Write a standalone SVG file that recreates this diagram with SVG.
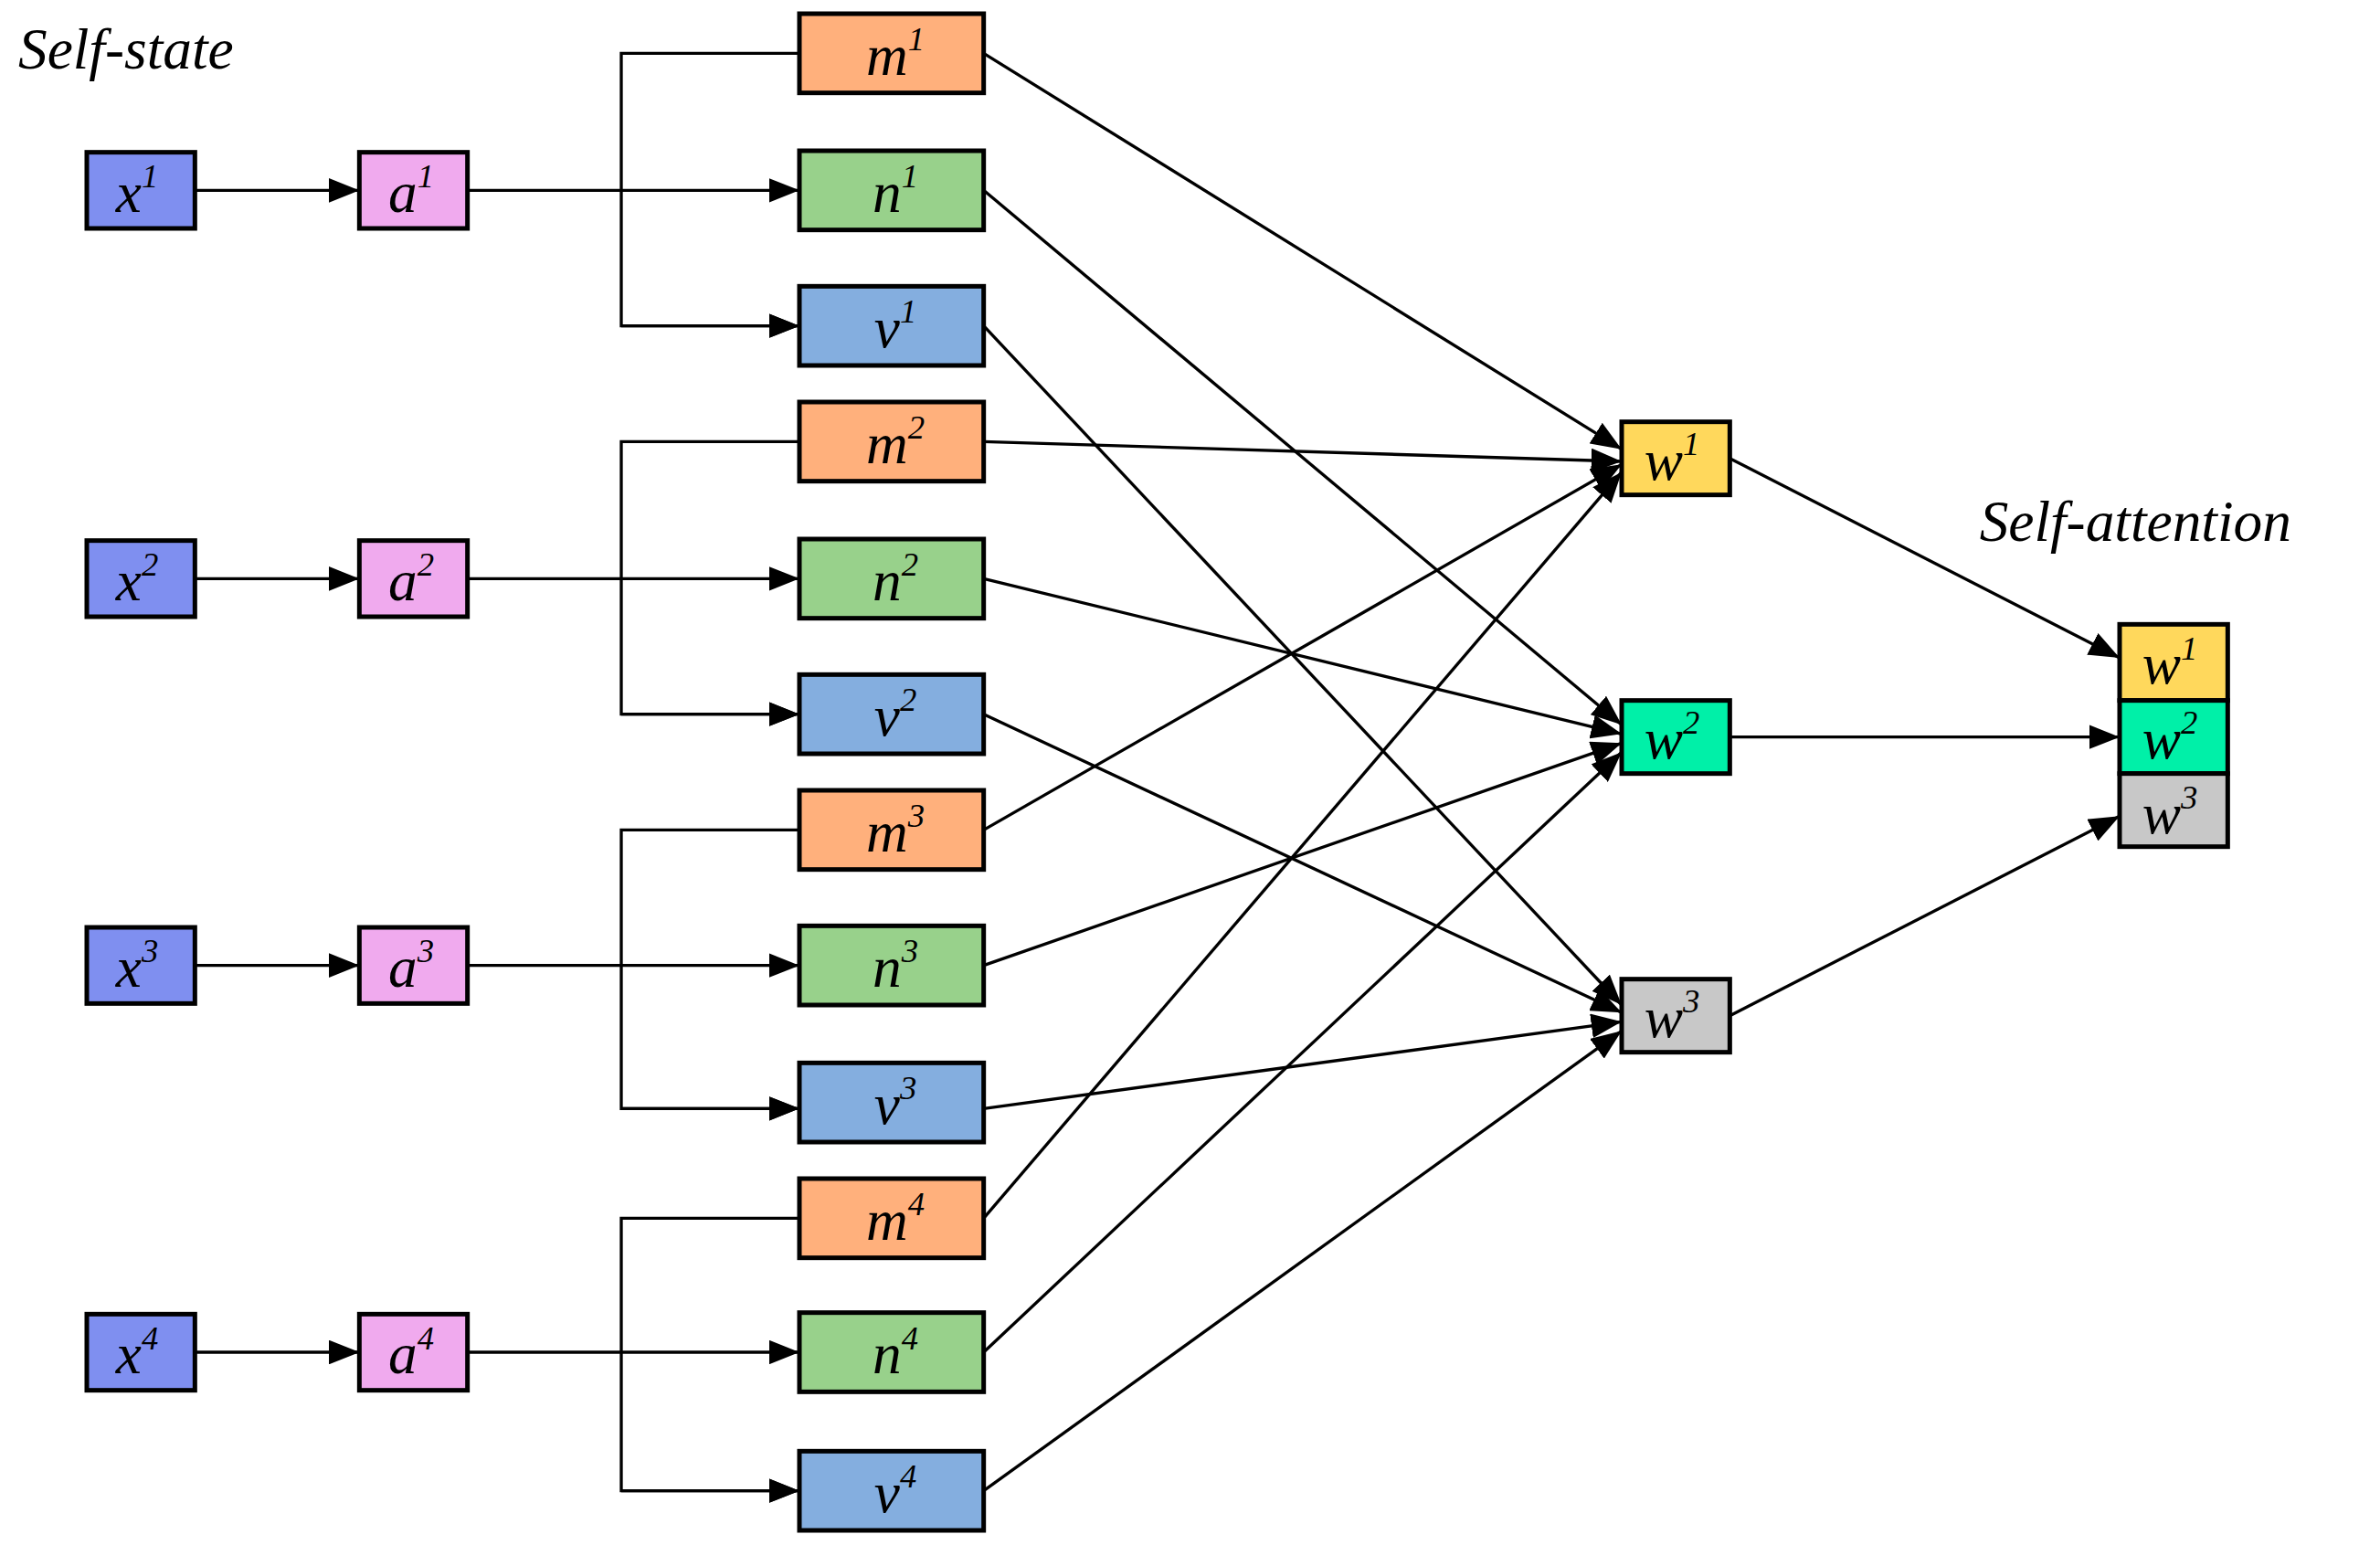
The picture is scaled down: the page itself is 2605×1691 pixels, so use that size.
<svg xmlns="http://www.w3.org/2000/svg" width="2605" height="1691" viewBox="0 0 2605 1691">
<style>
.b{stroke:#000;stroke-width:3}
.t{font-family:"Liberation Serif",serif;font-style:italic;font-size:38px;text-anchor:middle}
.s{font-size:22px}
.c line,.c path{stroke:#000;stroke-width:2;fill:none;marker-end:url(#ar)}
.h{font-family:"Liberation Serif",serif;font-style:italic;font-size:38px}
</style>
<defs><marker id="ar" markerUnits="userSpaceOnUse" markerWidth="20" markerHeight="16" refX="20" refY="8" orient="auto"><path d="M0,0L20,8L0,16Z" fill="#000"/></marker></defs>
<rect width="2605" height="1691" fill="#fff"/>
<g transform="scale(1.66667)">
<text class="h" x="12" y="45">Self-state</text>
<text class="h" x="1300" y="355">Self-attention</text>
<g class="c">
<line x1="128" y1="125" x2="236" y2="125"/><line x1="128" y1="380" x2="236" y2="380"/><line x1="128" y1="634" x2="236" y2="634"/><line x1="128" y1="888" x2="236" y2="888"/>
<line x1="307" y1="125" x2="525" y2="125"/><line x1="307" y1="380" x2="525" y2="380"/><line x1="307" y1="634" x2="525" y2="634"/><line x1="307" y1="888" x2="525" y2="888"/>
<path d="M525,35H408V214H525"/><path d="M408,214H525"/>
<path d="M525,290H408V469H525"/><path d="M408,469H525"/>
<path d="M525,545H408V728H525"/><path d="M408,728H525"/>
<path d="M525,800H408V979H525"/><path d="M408,979H525"/>
<line x1="646" y1="35" x2="1065" y2="295"/><line x1="646" y1="290" x2="1065" y2="303"/><line x1="646" y1="545" x2="1065" y2="305"/><line x1="646" y1="800" x2="1065" y2="310"/>
<line x1="646" y1="125" x2="1065" y2="476"/><line x1="646" y1="380" x2="1065" y2="482"/><line x1="646" y1="634" x2="1065" y2="488"/><line x1="646" y1="888" x2="1065" y2="494"/>
<line x1="646" y1="214" x2="1065" y2="660"/><line x1="646" y1="469" x2="1065" y2="665"/><line x1="646" y1="728" x2="1065" y2="671"/><line x1="646" y1="979" x2="1065" y2="677"/>
<line x1="1136" y1="301" x2="1392" y2="432"/><line x1="1136" y1="484" x2="1392" y2="484"/><line x1="1136" y1="667" x2="1392" y2="536"/>
</g>
<g id="x1"><rect class="b" x="57" y="100" width="71" height="50" fill="#7f8ff0"/><text class="t" x="90" y="139">x<tspan class="s" dy="-16">1</tspan></text></g>
<g id="x2"><rect class="b" x="57" y="355" width="71" height="50" fill="#7f8ff0"/><text class="t" x="90" y="394">x<tspan class="s" dy="-16">2</tspan></text></g>
<g id="x3"><rect class="b" x="57" y="609" width="71" height="50" fill="#7f8ff0"/><text class="t" x="90" y="648">x<tspan class="s" dy="-16">3</tspan></text></g>
<g id="x4"><rect class="b" x="57" y="863" width="71" height="50" fill="#7f8ff0"/><text class="t" x="90" y="902">x<tspan class="s" dy="-16">4</tspan></text></g>
<g id="a1"><rect class="b" x="236" y="100" width="71" height="50" fill="#f0aaee"/><text class="t" x="270" y="139">a<tspan class="s" dy="-16">1</tspan></text></g>
<g id="a2"><rect class="b" x="236" y="355" width="71" height="50" fill="#f0aaee"/><text class="t" x="270" y="394">a<tspan class="s" dy="-16">2</tspan></text></g>
<g id="a3"><rect class="b" x="236" y="609" width="71" height="50" fill="#f0aaee"/><text class="t" x="270" y="648">a<tspan class="s" dy="-16">3</tspan></text></g>
<g id="a4"><rect class="b" x="236" y="863" width="71" height="50" fill="#f0aaee"/><text class="t" x="270" y="902">a<tspan class="s" dy="-16">4</tspan></text></g>
<g id="m1"><rect class="b" x="525" y="9" width="121" height="52" fill="#ffb07c"/><text class="t" x="588" y="49">m<tspan class="s" dy="-16">1</tspan></text></g>
<g id="n1"><rect class="b" x="525" y="99" width="121" height="52" fill="#98d18b"/><text class="t" x="588" y="139">n<tspan class="s" dy="-16">1</tspan></text></g>
<g id="v1"><rect class="b" x="525" y="188" width="121" height="52" fill="#84aedf"/><text class="t" x="588" y="228">v<tspan class="s" dy="-16">1</tspan></text></g>
<g id="m2"><rect class="b" x="525" y="264" width="121" height="52" fill="#ffb07c"/><text class="t" x="588" y="304">m<tspan class="s" dy="-16">2</tspan></text></g>
<g id="n2"><rect class="b" x="525" y="354" width="121" height="52" fill="#98d18b"/><text class="t" x="588" y="394">n<tspan class="s" dy="-16">2</tspan></text></g>
<g id="v2"><rect class="b" x="525" y="443" width="121" height="52" fill="#84aedf"/><text class="t" x="588" y="483">v<tspan class="s" dy="-16">2</tspan></text></g>
<g id="m3"><rect class="b" x="525" y="519" width="121" height="52" fill="#ffb07c"/><text class="t" x="588" y="559">m<tspan class="s" dy="-16">3</tspan></text></g>
<g id="n3"><rect class="b" x="525" y="608" width="121" height="52" fill="#98d18b"/><text class="t" x="588" y="648">n<tspan class="s" dy="-16">3</tspan></text></g>
<g id="v3"><rect class="b" x="525" y="698" width="121" height="52" fill="#84aedf"/><text class="t" x="588" y="738">v<tspan class="s" dy="-16">3</tspan></text></g>
<g id="m4"><rect class="b" x="525" y="774" width="121" height="52" fill="#ffb07c"/><text class="t" x="588" y="814">m<tspan class="s" dy="-16">4</tspan></text></g>
<g id="n4"><rect class="b" x="525" y="862" width="121" height="52" fill="#98d18b"/><text class="t" x="588" y="902">n<tspan class="s" dy="-16">4</tspan></text></g>
<g id="v4"><rect class="b" x="525" y="953" width="121" height="52" fill="#84aedf"/><text class="t" x="588" y="993">v<tspan class="s" dy="-16">4</tspan></text></g>
<g id="w1"><rect class="b" x="1065" y="277" width="71" height="48" fill="#ffd85c"/><text class="t" x="1098" y="315">w<tspan class="s" dy="-16">1</tspan></text></g>
<g id="w2"><rect class="b" x="1065" y="460" width="71" height="48" fill="#00f0a8"/><text class="t" x="1098" y="498">w<tspan class="s" dy="-16">2</tspan></text></g>
<g id="w3"><rect class="b" x="1065" y="643" width="71" height="48" fill="#c8c8c8"/><text class="t" x="1098" y="681">w<tspan class="s" dy="-16">3</tspan></text></g>
<g id="out">
<rect class="b" x="1392" y="410" width="71" height="50" fill="#ffd85c"/><text class="t" x="1425" y="449">w<tspan class="s" dy="-16">1</tspan></text>
<rect class="b" x="1392" y="460" width="71" height="48" fill="#00f0a8"/><text class="t" x="1425" y="498">w<tspan class="s" dy="-16">2</tspan></text>
<rect class="b" x="1392" y="508" width="71" height="48" fill="#c8c8c8"/><text class="t" x="1425" y="547">w<tspan class="s" dy="-16">3</tspan></text>
</g>
</g>
</svg>
